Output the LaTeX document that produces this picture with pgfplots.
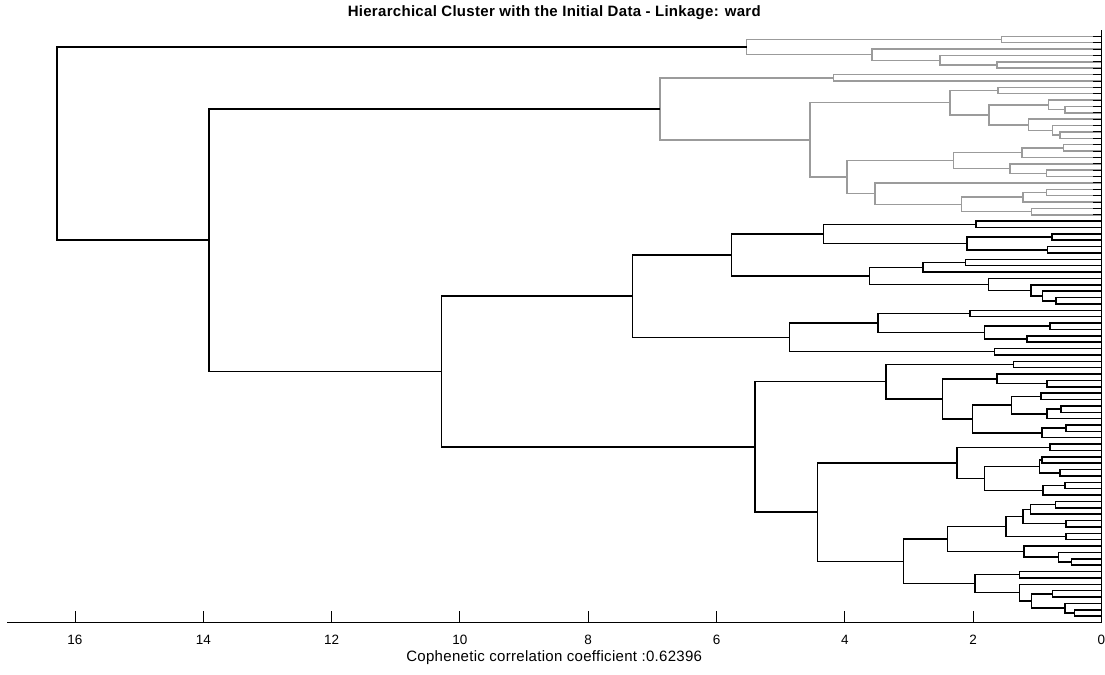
\documentclass[border=0pt]{standalone}
\usepackage{pgfplots}
\pgfplotsset{compat=1.18}
\usepackage{fontspec}
\setmainfont{Liberation Sans}
\definecolor{lgr}{RGB}{155,155,155}
\pgfplotsset{
  gcl/.style={color=lgr, line width=1.5bp},
  bcl/.style={color=black, line width=1.5bp},
}
\begin{document}
\begin{tikzpicture}
\path[use as bounding box] (0,0) rectangle (1105bp,675bp);
\begin{axis}[
  at={(7bp,52.5bp)}, anchor=south west,
  scale only axis, width=1094.5bp, height=592.5bp,
  x dir=reverse, xmin=0, xmax=17.06, ymin=0, ymax=93,
  axis x line*=bottom, axis y line*=right,
  x axis line style={-, line width=1.1bp},
  y axis line style={-, line width=1.1bp},
  axis on top,
  xtick={0,2,...,16},
  ytick={1,...,92}, yticklabels={},
  tick align=inside,
  xtick style={black, line width=0.9bp, /pgfplots/major tick length=11bp},
  ytick style={black, line width=0.9bp, /pgfplots/major tick length=9bp},
  /pgf/number format/assume math mode=true,
  xticklabel style={font=\fontsize{13.5bp}{15bp}\selectfont, anchor=base, yshift=-21.8bp},
  title={Hierarchical Cluster with the Initial Data - Linkage: ward},
  title style={at={(axis description cs:0.5,1)}, anchor=base, yshift=7.3bp,
    font=\fontsize{15bp}{17bp}\selectfont\bfseries\addfontfeature{LetterSpace=2}},
  xlabel={Cophenetic correlation coefficient :0.62396},
  xlabel style={at={(axis description cs:0.5,0)}, anchor=base, yshift=-39.5bp,
    font=\fontsize{15bp}{17bp}\selectfont\addfontfeature{LetterSpace=2}},
]
% ---- cluster A (gray)
\addplot[gcl] coordinates {(0,92)(1.56,92)(1.56,91)(0,91)};
\addplot[gcl] coordinates {(0,88)(1.63,88)(1.63,87)(0,87)};
\addplot[gcl] coordinates {(0,89)(2.52,89)(2.52,87.5)(1.63,87.5)};
\addplot[gcl] coordinates {(0,90)(3.58,90)(3.58,88.25)(2.52,88.25)};
\addplot[gcl] coordinates {(1.56,91.5)(5.53,91.5)(5.53,89.125)(3.58,89.125)};
% ---- cluster B (gray)
\addplot[gcl] coordinates {(0,86)(4.18,86)(4.18,85)(0,85)};
\addplot[gcl] coordinates {(0,84)(1.61,84)(1.61,83)(0,83)};
\addplot[gcl] coordinates {(0,81)(0.57,81)(0.57,80)(0,80)};
\addplot[gcl] coordinates {(0,82)(0.83,82)(0.83,80.5)(0.57,80.5)};
\addplot[gcl] coordinates {(0,77)(0.65,77)(0.65,76)(0,76)};
\addplot[gcl] coordinates {(0,78)(0.76,78)(0.76,76.5)(0.65,76.5)};
\addplot[gcl] coordinates {(0,79)(1.14,79)(1.14,77.25)(0.76,77.25)};
\addplot[gcl] coordinates {(0.83,81.25)(1.75,81.25)(1.75,78.125)(1.14,78.125)};
\addplot[gcl] coordinates {(1.61,83.5)(2.36,83.5)(2.36,79.6875)(1.75,79.6875)};
\addplot[gcl] coordinates {(0,75)(0.59,75)(0.59,74)(0,74)};
\addplot[gcl] coordinates {(0.59,74.5)(1.24,74.5)(1.24,73)(0,73)};
\addplot[gcl] coordinates {(0,71)(0.86,71)(0.86,70)(0,70)};
\addplot[gcl] coordinates {(0,72)(1.43,72)(1.43,70.5)(0.86,70.5)};
\addplot[gcl] coordinates {(1.24,73.75)(2.31,73.75)(2.31,71.25)(1.43,71.25)};
\addplot[gcl] coordinates {(0,68)(0.86,68)(0.86,67)(0,67)};
\addplot[gcl] coordinates {(0.86,67.5)(1.22,67.5)(1.22,66)(0,66)};
\addplot[gcl] coordinates {(0,65)(1.09,65)(1.09,64)(0,64)};
\addplot[gcl] coordinates {(1.22,66.75)(2.18,66.75)(2.18,64.5)(1.09,64.5)};
\addplot[gcl] coordinates {(0,69)(3.53,69)(3.53,65.625)(2.18,65.625)};
\addplot[gcl] coordinates {(2.31,72.5)(3.97,72.5)(3.97,67.3125)(3.53,67.3125)};
\addplot[gcl] coordinates {(2.36,81.59375)(4.54,81.59375)(4.54,69.90625)(3.97,69.90625)};
\addplot[gcl] coordinates {(4.18,85.5)(6.88,85.5)(6.88,75.75)(4.54,75.75)};
% ---- cluster I (black)
\addplot[bcl] coordinates {(0,63)(1.96,63)(1.96,62)(0,62)};
\addplot[bcl] coordinates {(0,61)(0.77,61)(0.77,60)(0,60)};
\addplot[bcl] coordinates {(0,59)(0.84,59)(0.84,58)(0,58)};
\addplot[bcl] coordinates {(0.77,60.5)(2.10,60.5)(2.10,58.5)(0.84,58.5)};
\addplot[bcl] coordinates {(1.96,62.5)(4.33,62.5)(4.33,59.5)(2.10,59.5)};
\addplot[bcl] coordinates {(0,57)(2.12,57)(2.12,56)(0,56)};
\addplot[bcl] coordinates {(2.12,56.5)(2.78,56.5)(2.78,55)(0,55)};
\addplot[bcl] coordinates {(0,51)(0.71,51)(0.71,50)(0,50)};
\addplot[bcl] coordinates {(0,52)(0.92,52)(0.92,50.5)(0.71,50.5)};
\addplot[bcl] coordinates {(0,53)(1.10,53)(1.10,51.25)(0.92,51.25)};
\addplot[bcl] coordinates {(0,54)(1.76,54)(1.76,52.125)(1.10,52.125)};
\addplot[bcl] coordinates {(2.78,55.75)(3.62,55.75)(3.62,53.0625)(1.76,53.0625)};
\addplot[bcl] coordinates {(4.33,61)(5.77,61)(5.77,54.40625)(3.62,54.40625)};
\addplot[bcl] coordinates {(0,49)(2.05,49)(2.05,48)(0,48)};
\addplot[bcl] coordinates {(0,47)(0.80,47)(0.80,46)(0,46)};
\addplot[bcl] coordinates {(0,45)(1.16,45)(1.16,44)(0,44)};
\addplot[bcl] coordinates {(0.80,46.5)(1.82,46.5)(1.82,44.5)(1.16,44.5)};
\addplot[bcl] coordinates {(2.05,48.5)(3.48,48.5)(3.48,45.5)(1.82,45.5)};
\addplot[bcl] coordinates {(0,43)(1.67,43)(1.67,42)(0,42)};
\addplot[bcl] coordinates {(3.48,47)(4.86,47)(4.86,42.5)(1.67,42.5)};
\addplot[bcl] coordinates {(5.77,57.703125)(7.31,57.703125)(7.31,44.75)(4.86,44.75)};
\addplot[bcl] coordinates {(0,41)(1.37,41)(1.37,40)(0,40)};
\addplot[bcl] coordinates {(0,38)(0.85,38)(0.85,37)(0,37)};
\addplot[bcl] coordinates {(0,39)(1.63,39)(1.63,37.5)(0.85,37.5)};
\addplot[bcl] coordinates {(0,36)(0.94,36)(0.94,35)(0,35)};
\addplot[bcl] coordinates {(0,34)(0.63,34)(0.63,33)(0,33)};
\addplot[bcl] coordinates {(0.63,33.5)(0.85,33.5)(0.85,32)(0,32)};
\addplot[bcl] coordinates {(0.94,35.5)(1.40,35.5)(1.40,32.75)(0.85,32.75)};
\addplot[bcl] coordinates {(0,31)(0.55,31)(0.55,30)(0,30)};
\addplot[bcl] coordinates {(0.55,30.5)(0.93,30.5)(0.93,29)(0,29)};
\addplot[bcl] coordinates {(1.40,34.125)(2.01,34.125)(2.01,29.75)(0.93,29.75)};
\addplot[bcl] coordinates {(1.63,38.25)(2.48,38.25)(2.48,31.9375)(2.01,31.9375)};
\addplot[bcl] coordinates {(1.37,40.5)(3.36,40.5)(3.36,35.09375)(2.48,35.09375)};
\addplot[bcl] coordinates {(0,28)(0.80,28)(0.80,27)(0,27)};
\addplot[bcl] coordinates {(0,26)(0.93,26)(0.93,25)(0,25)};
\addplot[bcl] coordinates {(0,24)(0.65,24)(0.65,23)(0,23)};
\addplot[bcl] coordinates {(0.93,25.5)(0.97,25.5)(0.97,23.5)(0.65,23.5)};
\addplot[bcl] coordinates {(0,22)(0.57,22)(0.57,21)(0,21)};
\addplot[bcl] coordinates {(0.57,21.5)(0.91,21.5)(0.91,20)(0,20)};
\addplot[bcl] coordinates {(0.97,24.5)(1.82,24.5)(1.82,20.75)(0.91,20.75)};
\addplot[bcl] coordinates {(0.80,27.5)(2.25,27.5)(2.25,22.625)(1.82,22.625)};
\addplot[bcl] coordinates {(0,19)(0.72,19)(0.72,18)(0,18)};
\addplot[bcl] coordinates {(0.72,18.5)(1.11,18.5)(1.11,17)(0,17)};
\addplot[bcl] coordinates {(0,16)(0.55,16)(0.55,15)(0,15)};
\addplot[bcl] coordinates {(1.11,17.75)(1.22,17.75)(1.22,15.5)(0.55,15.5)};
\addplot[bcl] coordinates {(0,14)(0.55,14)(0.55,13)(0,13)};
\addplot[bcl] coordinates {(1.22,16.625)(1.49,16.625)(1.49,13.5)(0.55,13.5)};
\addplot[bcl] coordinates {(0,10)(0.47,10)(0.47,9)(0,9)};
\addplot[bcl] coordinates {(0,11)(0.67,11)(0.67,9.5)(0.47,9.5)};
\addplot[bcl] coordinates {(0,12)(1.21,12)(1.21,10.25)(0.67,10.25)};
\addplot[bcl] coordinates {(1.49,15.0625)(2.40,15.0625)(2.40,11.125)(1.21,11.125)};
\addplot[bcl] coordinates {(0,8)(1.28,8)(1.28,7)(0,7)};
\addplot[bcl] coordinates {(0,5)(0.76,5)(0.76,4)(0,4)};
\addplot[bcl] coordinates {(0,2)(0.42,2)(0.42,1)(0,1)};
\addplot[bcl] coordinates {(0,3)(0.57,3)(0.57,1.5)(0.42,1.5)};
\addplot[bcl] coordinates {(0.76,4.5)(1.09,4.5)(1.09,2.25)(0.57,2.25)};
\addplot[bcl] coordinates {(0,6)(1.28,6)(1.28,3.375)(1.09,3.375)};
\addplot[bcl] coordinates {(1.28,7.5)(1.97,7.5)(1.97,4.6875)(1.28,4.6875)};
\addplot[bcl] coordinates {(2.40,13.09375)(3.09,13.09375)(3.09,6.09375)(1.97,6.09375)};
\addplot[bcl] coordinates {(2.25,25.0625)(4.43,25.0625)(4.43,9.59375)(3.09,9.59375)};
\addplot[bcl] coordinates {(3.36,37.796875)(5.40,37.796875)(5.40,17.328125)(4.43,17.328125)};
\addplot[bcl] coordinates {(7.31,51.2265625)(10.29,51.2265625)(10.29,27.5625)(5.40,27.5625)};
% ---- top-level links (black)
\addplot[bcl] coordinates {(6.88,80.625)(13.91,80.625)(13.91,39.39453125)(10.29,39.39453125)};
\addplot[bcl] coordinates {(5.53,90.3125)(16.28,90.3125)(16.28,60.009765625)(13.91,60.009765625)};
\end{axis}
\end{tikzpicture}
\end{document}
